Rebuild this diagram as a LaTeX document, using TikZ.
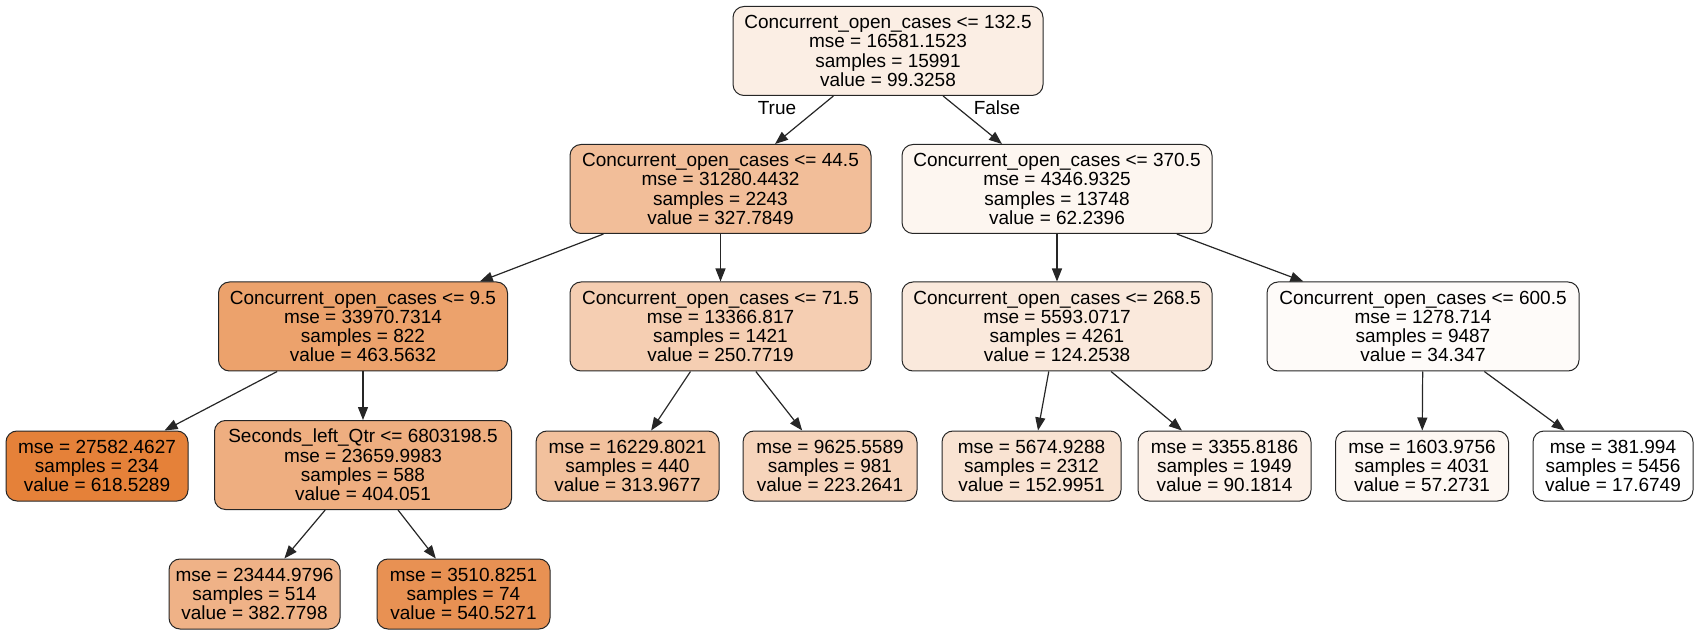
\documentclass[tikz,border=0pt]{standalone}
\usepackage{fontspec}
\setmainfont{Liberation Sans}
\usetikzlibrary{arrows.meta}
\definecolor{dtorange}{RGB}{229,129,57}
\tikzset{
  tnode/.style={draw=black!85, line width=1pt, rounded corners=11pt, align=center,
    inner sep=0pt, minimum height=89pt, font=\fontsize{19}{19.3}\selectfont},
  tleaf/.style={tnode, minimum height=70pt},
  tedge/.style={draw=black!85, line width=1.2pt, -{Triangle[length=13pt,width=10pt]}},
  tlabel/.style={font=\fontsize{19}{19.3}\selectfont, inner sep=0pt}
}
\newcommand{\fc}[1]{dtorange!#1!white}
\begin{document}
\begin{tikzpicture}
\useasboundingbox (0pt,0pt) rectangle (1698pt,-636pt);
% level 0
\node[tnode, minimum width=310pt, fill=\fc{13.6}] (root) at (888pt,-51pt)
  {Concurrent\_open\_cases <= 132.5\\mse = 16581.1523\\samples = 15991\\value = 99.3258};
% level 1
\node[tnode, minimum width=301pt, fill=\fc{51.6}] (L) at (720.5pt,-189pt)
  {Concurrent\_open\_cases <= 44.5\\mse = 31280.4432\\samples = 2243\\value = 327.7849};
\node[tnode, minimum width=310pt, fill=\fc{7.4}] (R) at (1057pt,-189pt)
  {Concurrent\_open\_cases <= 370.5\\mse = 4346.9325\\samples = 13748\\value = 62.2396};
% level 2
\node[tnode, minimum width=289pt, fill=\fc{74.2}] (LL) at (363pt,-326.5pt)
  {Concurrent\_open\_cases <= 9.5\\mse = 33970.7314\\samples = 822\\value = 463.5632};
\node[tnode, minimum width=301pt, fill=\fc{38.8}] (LR) at (720.5pt,-326.5pt)
  {Concurrent\_open\_cases <= 71.5\\mse = 13366.817\\samples = 1421\\value = 250.7719};
\node[tnode, minimum width=310pt, fill=\fc{17.7}] (RL) at (1057pt,-326.5pt)
  {Concurrent\_open\_cases <= 268.5\\mse = 5593.0717\\samples = 4261\\value = 124.2538};
\node[tnode, minimum width=312pt, fill=\fc{2.8}] (RR) at (1423pt,-326.5pt)
  {Concurrent\_open\_cases <= 600.5\\mse = 1278.714\\samples = 9487\\value = 34.347};
% level 3
\node[tleaf, minimum width=182pt, fill=\fc{100}] (LLL) at (97pt,-466pt)
  {mse = 27582.4627\\samples = 234\\value = 618.5289};
\node[tnode, minimum width=297pt, fill=\fc{64.3}] (LLR) at (363pt,-465pt)
  {Seconds\_left\_Qtr <= 6803198.5\\mse = 23659.9983\\samples = 588\\value = 404.051};
\node[tleaf, minimum width=183pt, fill=\fc{49.3}] (LRL) at (627.5pt,-466pt)
  {mse = 16229.8021\\samples = 440\\value = 313.9677};
\node[tleaf, minimum width=174pt, fill=\fc{34.2}] (LRR) at (830pt,-466pt)
  {mse = 9625.5589\\samples = 981\\value = 223.2641};
\node[tleaf, minimum width=179pt, fill=\fc{22.5}] (RLL) at (1031.5pt,-466pt)
  {mse = 5674.9288\\samples = 2312\\value = 152.9951};
\node[tleaf, minimum width=173pt, fill=\fc{12.1}] (RLR) at (1224.5pt,-466pt)
  {mse = 3355.8186\\samples = 1949\\value = 90.1814};
\node[tleaf, minimum width=173pt, fill=\fc{6.6}] (RRL) at (1422pt,-466pt)
  {mse = 1603.9756\\samples = 4031\\value = 57.2731};
\node[tleaf, minimum width=160pt, fill=white] (RRR) at (1613pt,-466pt)
  {mse = 381.994\\samples = 5456\\value = 17.6749};
% level 4
\node[tleaf, minimum width=171pt, fill=\fc{60.8}] (LLRL) at (254.5pt,-594pt)
  {mse = 23444.9796\\samples = 514\\value = 382.7798};
\node[tleaf, minimum width=173pt, fill=\fc{87.0}] (LLRR) at (463.5pt,-594pt)
  {mse = 3510.8251\\samples = 74\\value = 540.5271};
% edges
\draw[tedge] (root) -- (L);
\draw[tedge] (root) -- (R);
\draw[tedge] (L) -- (LL);
\draw[tedge] (L) -- (LR);
\draw[tedge] (R) -- (RL);
\draw[tedge] (R) -- (RR);
\draw[tedge] (LL) -- (LLL);
\draw[tedge] (LL) -- (LLR);
\draw[tedge] (LR) -- (LRL);
\draw[tedge] (LR) -- (LRR);
\draw[tedge] (RL) -- (RLL);
\draw[tedge] (RL) -- (RLR);
\draw[tedge] (RR) -- (RRL);
\draw[tedge] (RR) -- (RRR);
\draw[tedge] (LLR) -- (LLRL);
\draw[tedge] (LLR) -- (LLRR);
% edge labels
\node[tlabel] (ltrue) at (777pt,-108pt) {True};
\node[tlabel] (lfalse) at (997pt,-108pt) {False};
\end{tikzpicture}
\end{document}
